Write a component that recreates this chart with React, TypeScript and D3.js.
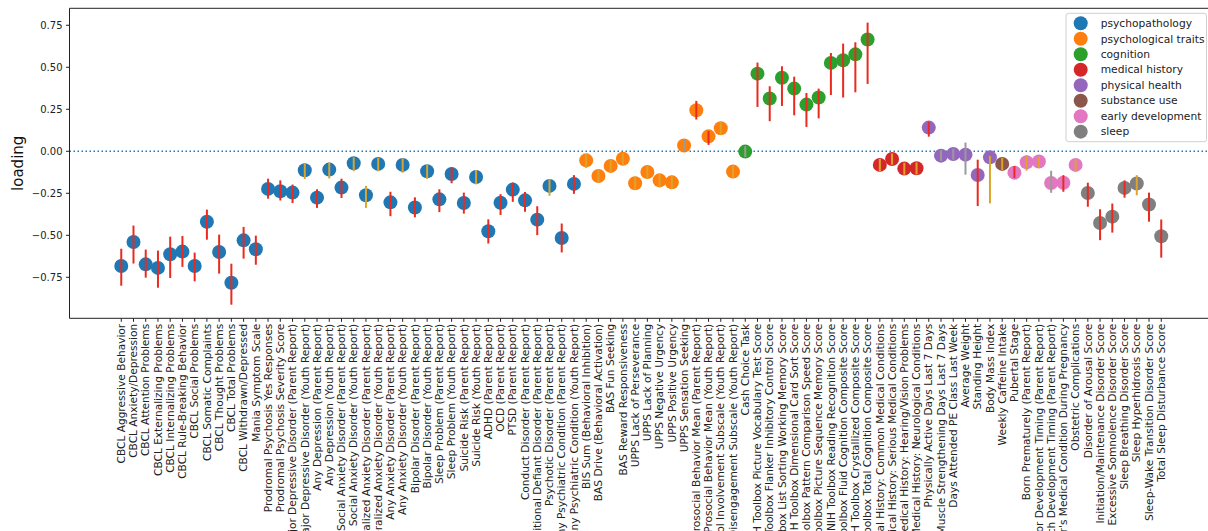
import React from "react";
import * as d3 from "d3";

const labels: string[] = [
  "CBCL Aggressive Behavior", "CBCL Anxiety/Depression", "CBCL Attention Problems", "CBCL Externalizing Problems",
  "CBCL Internalizing Problems", "CBCL Rule-Breaking Behavior", "CBCL Social Problems", "CBCL Somatic Complaints",
  "CBCL Thought Problems", "CBCL Total Problems", "CBCL Withdrawn/Depressed", "Mania Symptom Scale",
  "Prodromal Psychosis Yes Responses", "Prodromal Psychosis Severity Score",
  "Major Depressive Disorder (Parent Report)", "Major Depressive Disorder (Youth Report)",
  "Any Depression (Parent Report)", "Any Depression (Youth Report)",
  "Social Anxiety Disorder (Parent Report)", "Social Anxiety Disorder (Youth Report)",
  "Generalized Anxiety Disorder (Parent Report)", "Generalized Anxiety Disorder (Youth Report)",
  "Any Anxiety Disorder (Parent Report)", "Any Anxiety Disorder (Youth Report)",
  "Bipolar Disorder (Parent Report)", "Bipolar Disorder (Youth Report)",
  "Sleep Problem (Parent Report)", "Sleep Problem (Youth Report)",
  "Suicide Risk (Parent Report)", "Suicide Risk (Youth Report)",
  "ADHD (Parent Report)", "OCD (Parent Report)", "PTSD (Parent Report)", "Conduct Disorder (Parent Report)",
  "Oppositional Defiant Disorder (Parent Report)", "Psychotic Disorder (Parent Report)",
  "Any Psychiatric Condition (Parent Report)", "Any Psychiatric Condition (Youth Report)",
  "BIS Sum (Behavioral Inhibition)", "BAS Drive (Behavioral Activation)", "BAS Fun Seeking",
  "BAS Reward Responsiveness", "UPPS Lack of Perseverance", "UPPS Lack of Planning", "UPPS Negative Urgency",
  "UPPS Positive Urgency", "UPPS Sensation Seeking", "Prosocial Behavior Mean (Parent Report)",
  "Prosocial Behavior Mean (Youth Report)", "School Involvement Subscale (Youth Report)",
  "School Disengagement Subscale (Youth Report)", "Cash Choice Task",
  "NIH Toolbox Picture Vocabulary Test Score", "NIH Toolbox Flanker Inhibitory Control Score",
  "NIH Toolbox List Sorting Working Memory Score", "NIH Toolbox Dimensional Card Sort Score",
  "NIH Toolbox Pattern Comparison Speed Score", "NIH Toolbox Picture Sequence Memory Score",
  "NIH Toolbox Reading Recognition Score", "NIH Toolbox Fluid Cognition Composite Score",
  "NIH Toolbox Crystallized Composite Score", "NIH Toolbox Total Cognition Composite Score",
  "Medical History: Common Medical Conditions", "Medical History: Serious Medical Conditions",
  "Medical History: Hearing/Vision Problems", "Medical History: Neurological Conditions",
  "Physically Active Days Last 7 Days", "Muscle Strengthening Days Last 7 Days",
  "Days Attended PE Class Last Week", "Average Weight", "Standing Height", "Body Mass Index",
  "Weekly Caffeine Intake", "Pubertal Stage", "Born Prematurely (Parent Report)",
  "Motor Development Timing (Parent Report)", "Speech Development Timing (Parent Report)",
  "Mother's Medical Condition During Pregnancy", "Obstetric Complications",
  "Disorder of Arousal Score", "Initiation/Maintenance Disorder Score", "Excessive Somnolence Disorder Score",
  "Sleep Breathing Disorder Score", "Sleep Hyperhidrosis Score", "Sleep-Wake Transition Disorder Score",
  "Total Sleep Disturbance Score",
];

const groupNames: string[] = [
  "psychopathology", "psychological traits", "cognition", "medical history",
  "physical health", "substance use", "early development", "sleep",
];
const groupColors: string[] = [
  "#1f77b4", "#ff7f0e", "#2ca02c", "#d62728", "#9467bd", "#8c564b", "#e377c2", "#7f7f7f",
];

// number of items in each group, in order
const groupSizes: number[] = [38, 13, 11, 4, 6, 1, 6, 7];
const groups: number[] = groupSizes.flatMap((n, g) => Array(n).fill(g));

const loadings: number[] = [
  -0.683, -0.540, -0.673, -0.694, -0.613, -0.597, -0.683, -0.419, -0.599, -0.782, -0.530, -0.583,
  -0.224, -0.238, -0.246, -0.113, -0.276, -0.109, -0.216, -0.071, -0.262, -0.075, -0.304, -0.081,
  -0.335, -0.119, -0.286, -0.135, -0.308, -0.153, -0.476, -0.306, -0.228, -0.292, -0.407, -0.206,
  -0.516, -0.194,
  -0.054, -0.147, -0.087, -0.044, -0.190, -0.123, -0.173, -0.185, 0.034, 0.244, 0.089, 0.137, -0.121,
  -0.002, 0.462, 0.314, 0.438, 0.373, 0.278, 0.320, 0.526, 0.542, 0.577, 0.665,
  -0.081, -0.046, -0.103, -0.101,
  0.141, -0.026, -0.016, -0.020, -0.141, -0.036,
  -0.075,
  -0.127, -0.065, -0.061, -0.189, -0.187, -0.081,
  -0.248, -0.427, -0.389, -0.218, -0.192, -0.317, -0.506,
];

const lowers: number[] = [
  -0.80, -0.668, -0.752, -0.812, -0.754, -0.688, -0.774, -0.526, -0.728, -0.913, -0.639, -0.675,
  -0.282, -0.293, -0.308, -0.165, -0.337, -0.162, -0.278, -0.119, -0.337, -0.119, -0.386, -0.128,
  -0.393, -0.164, -0.362, -0.190, -0.371, -0.197, -0.549, -0.379, -0.301, -0.360, -0.499, -0.265,
  -0.602, -0.253,
  -0.100, -0.188, -0.125, -0.080, -0.230, -0.163, -0.215, -0.225, 0.000, 0.189, 0.038, 0.097, -0.160,
  -0.034, 0.264, 0.179, 0.270, 0.214, 0.145, 0.196, 0.335, 0.320, 0.351, 0.401,
  -0.121, -0.080, -0.140, -0.138,
  0.087, -0.057, -0.050, -0.139, -0.326, -0.310,
  -0.113,
  -0.159, -0.115, -0.100, -0.247, -0.241, -0.118,
  -0.330, -0.529, -0.484, -0.276, -0.262, -0.419, -0.633,
];

const uppers: number[] = [
  -0.58, -0.442, -0.585, -0.591, -0.508, -0.504, -0.603, -0.347, -0.496, -0.669, -0.450, -0.502,
  -0.163, -0.173, -0.198, -0.073, -0.226, -0.066, -0.163, -0.036, -0.206, -0.040, -0.241, -0.042,
  -0.274, -0.079, -0.226, -0.095, -0.246, -0.112, -0.405, -0.255, -0.186, -0.242, -0.327, -0.166,
  -0.430, -0.142,
  -0.016, -0.107, -0.050, -0.010, -0.150, -0.085, -0.135, -0.145, 0.070, 0.300, 0.121, 0.175, -0.085,
  0.030, 0.528, 0.387, 0.506, 0.444, 0.347, 0.373, 0.585, 0.641, 0.649, 0.766,
  -0.045, -0.013, -0.068, -0.066,
  0.175, 0.007, 0.015, 0.052, -0.050, -0.028,
  -0.040,
  -0.088, -0.023, -0.033, -0.116, -0.142, -0.045,
  -0.187, -0.345, -0.311, -0.173, -0.142, -0.246, -0.406,
];

// error bar class per item: r = red, y = goldenrod, g = grey
const barClasses: string[] = [
  "rrrrrrrrrrrrrrryryryyyryryrrryrrrrryrr",
  "yyyyyyyygrryy",
  "grrrrrrrrrr",
  "yyyy",
  "rgggry",
  "y",
  "ryygry",
  "rrrryrr",
];
const barClass: string = barClasses.join("");

const barColors: Record<string, string> = { r: "#ea2a1f", y: "#dca42a", g: "#9a9a9a" };

const yTicks: number[] = [-0.75, -0.5, -0.25, 0, 0.25, 0.5, 0.75];

export default function App() {
  const W = 1208, H = 531;
  const left = 69.5, right = 1213, top = 8.3, bottom = 318.3;
  const x = d3.scaleLinear().domain([-4.23, 89.23]).range([left, right]);
  const y = d3.scaleLinear().domain([-0.994, 0.851]).range([bottom, top]);
  const font = "DejaVu Sans, sans-serif";
  const fmt = (v: number) => d3.format(".2f")(v).replace("-", "\u2212");

  return (
    <svg width={W} height={H} style={{ position: "absolute", left: 0, top: 0, background: "#fff" }}
      fontFamily={font}>
      <rect x={0} y={0} width={W} height={H} fill="#fff" />
      {/* zero line */}
      <line x1={left} x2={W} y1={y(0)} y2={y(0)} stroke="#1f77b4" strokeWidth={1.5}
        strokeDasharray="1.5,2.5" />
      {/* points */}
      {loadings.map((v, i) => (
        <circle key={"c" + i} cx={x(i)} cy={y(v)} r={7} fill={groupColors[groups[i]]} />
      ))}
      {/* error bars */}
      {loadings.map((v, i) => (
        <line key={"e" + i} x1={x(i)} x2={x(i)} y1={y(lowers[i])} y2={y(uppers[i])}
          stroke={barColors[barClass[i]] || "#ea2a1f"} strokeWidth={2} />
      ))}
      {/* spines */}
      <line x1={left} x2={left} y1={top} y2={bottom} stroke="#222" strokeWidth={1} />
      <line x1={left} x2={W} y1={top} y2={top} stroke="#222" strokeWidth={1} />
      <line x1={left} x2={W} y1={bottom} y2={bottom} stroke="#222" strokeWidth={1} />
      {/* y ticks */}
      {yTicks.map((t) => (
        <g key={"yt" + t}>
          <line x1={left - 3.5} x2={left} y1={y(t)} y2={y(t)} stroke="#222" strokeWidth={1} />
          <text x={left - 7} y={y(t)} dy="0.35em" textAnchor="end" fontSize={10} fill="#222">{fmt(t)}</text>
        </g>
      ))}
      <text transform={`translate(22.5, ${(top + bottom) / 2}) rotate(-90)`} textAnchor="middle"
        fontSize={15} fill="#111">loading</text>
      {/* x ticks */}
      {labels.map((l, i) => (
        <g key={"xt" + i}>
          <line x1={x(i)} x2={x(i)} y1={bottom} y2={bottom + 3.5} stroke="#222" strokeWidth={1} />
          <text transform={`translate(${x(i)}, ${bottom + 5.5}) rotate(-90)`} dy="0.35em" textAnchor="end"
            fontSize={10.6} fill="#222">{l}</text>
        </g>
      ))}
      {/* legend */}
      <g>
        <rect x={1066} y={13.3} width={140.5} height={128.4} rx={2.5} fill="#fff" fillOpacity={0.8}
          stroke="#d0d0d0" strokeWidth={1} />
        {groupNames.map((g, i) => (
          <g key={"lg" + i}>
            <circle cx={1080.7} cy={23.3 + i * 15.48} r={7} fill={groupColors[i]} />
            <text x={1100.7} y={23.3 + i * 15.48} dy="0.35em" fontSize={10.7} fill="#222">{g}</text>
          </g>
        ))}
      </g>
    </svg>
  );
}
